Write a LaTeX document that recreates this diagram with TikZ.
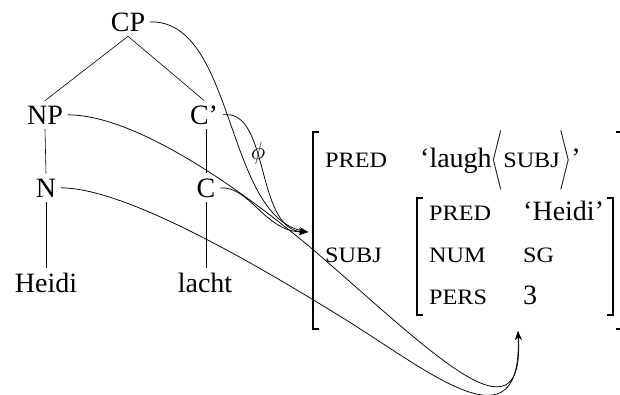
\documentclass[tikz,border=0pt]{standalone}
\usepackage{exscale}
\usepackage{fontspec}
\setmainfont{Liberation Serif}
\newfontfamily\scfont[FakeStretch=1.1]{Liberation Serif}
\usetikzlibrary{arrows.meta}
\newcommand{\smc}[1]{{\scfont\fontsize{22}{26}\selectfont #1}}
\newcommand{\tallstrut}{\vcenter{\hbox{\rule{0pt}{50pt}}}}
\newcommand{\langl}{\scalebox{0.62}[1]{$\nulldelimiterspace=0pt\left\langle\tallstrut\right.$}}
\newcommand{\rangl}{\scalebox{0.62}[1]{$\nulldelimiterspace=0pt\left.\tallstrut\right\rangle$}}
\begin{document}
\begin{tikzpicture}[x=1pt,y=-1pt,
  tree/.style={font=\fontsize{28}{34}\selectfont, inner sep=3pt, outer sep=2pt, anchor=base},
  feat/.style={anchor=base west, inner sep=0pt, font=\scfont\fontsize{22}{26}\selectfont},
  val/.style={anchor=base west, inner sep=0pt, font=\fontsize{28}{34}\selectfont},
  edge/.style={line width=0.6pt},
  link/.style={line width=0.75pt, -{Stealth[length=9pt,width=6.5pt]}},
  brk/.style={line width=2.4pt},
  tick/.style={line width=1.2pt}]
\useasboundingbox (0,0) rectangle (620,394);

% tree
\node[tree] (CP) at (128,31) {CP};
\node[tree] (NP) at (45,124) {NP};
\node[tree] (Cb) at (204,124) {C’};
\node[tree] (N) at (46,197) {N};
\node[tree] (C) at (206,197) {C};
\node[tree] (Heidi) at (46,292) {Heidi};
\node[tree] (lacht) at (205,292) {lacht};

\draw[edge] (CP.south) -- (NP.north);
\draw[edge] (CP.south) -- (Cb.north);
\draw[edge] (NP.south) -- (N.north);
\draw[edge] (C.north |- Cb.south) -- (C.north);
\draw[edge] (N.south) -- (Heidi.north);
\draw[edge] (C.south) -- (C.south |- lacht.north);

% f-structure
\node[feat] (oPRED) at (325,167) {PRED};
\node[feat] (oSUBJ) at (325,262) {SUBJ};
\node[val] (oVal) at (420,167) {‘laugh\langl\smc{SUBJ}\rangl’};

\node[feat] (iPRED) at (429,220) {PRED};
\node[feat] (iNUM) at (429,262) {NUM};
\node[feat] (iPERS) at (429,304) {PERS};
\node[val] (iHeidi) at (523,220) {‘Heidi’};
\node[feat] (iSG) at (523,262) {SG};
\node[val] (iThree) at (523,304) {3};

% brackets
\draw[brk] (313,131.4) -- (313,329.6);
\draw[tick] (312,132) -- (319,132) (312,329) -- (319,329);
\draw[brk] (622,131.4) -- (622,329.6);
\draw[tick] (616,132) -- (623,132) (616,329) -- (623,329);
\draw[brk] (417,197.4) -- (417,315.6);
\draw[tick] (416,198) -- (423,198) (416,315) -- (423,315);
\draw[brk] (613,197.4) -- (613,315.6);
\draw[tick] (607,198) -- (614,198) (607,315) -- (614,315);

% links
\coordinate (t1) at (308,232);
\coordinate (t2) at (518,331);
\draw[link] (CP.east) .. controls (235,20) and (225,215) .. (t1);
\draw[link] (Cb.east) .. controls (270,108) and (255,230) .. (t1);
\draw[link] (C.east) .. controls (250,186) and (265,232) .. (t1);
\node[font=\fontsize{30}{34}\selectfont, inner sep=0pt] (phi) at (258,153) {$\phi$};
\draw[link] (NP.east) .. controls (140,115) and (250,197) .. (310,247)
            .. controls (430,350) and (525,450) .. (t2);
\draw[link] (N.east) .. controls (130,188) and (273,275) .. (343,318)
            .. controls (433,374) and (522,450) .. (t2);
\end{tikzpicture}
\end{document}
